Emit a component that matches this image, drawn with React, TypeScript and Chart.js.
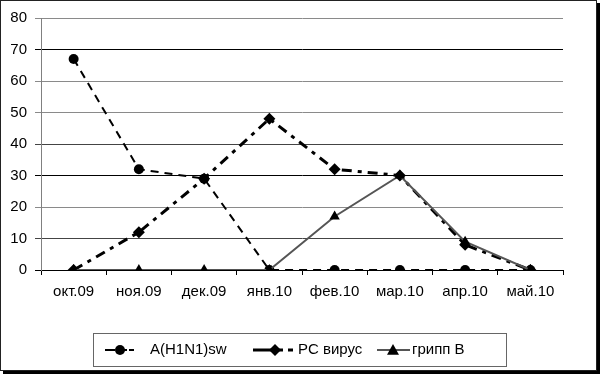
import React, { useEffect, useRef } from 'react';
import { Chart, registerables } from 'chart.js';

Chart.register(...registerables);

const categories = ['окт.09', 'ноя.09', 'дек.09', 'янв.10', 'фев.10', 'мар.10', 'апр.10', 'май.10'];
const h1n1Values = [67, 32, 29, 0, 0, 0, 0, 0];
const rsVirusValues = [0, 12, 29, 48, 32, 30, 8, 0];
const fluBValues = [0, 0, 0, 0, 17, 30, 9, 0];
const seriesNames = ['A(H1N1)sw', 'PC вирус', 'грипп B'];
const yMin = 0;
const yMax = 80;
const yStep = 10;

const FONT = 'Liberation Sans, Arial, sans-serif';

function drawMarker(ctx: CanvasRenderingContext2D, style: string, x: number, y: number, r: number) {
  ctx.save();
  ctx.fillStyle = '#000';
  ctx.beginPath();
  if (style === 'circle') {
    ctx.arc(x, y, r, 0, Math.PI * 2);
  } else if (style === 'rectRot') {
    ctx.moveTo(x, y - r);
    ctx.lineTo(x + r, y);
    ctx.lineTo(x, y + r);
    ctx.lineTo(x - r, y);
    ctx.closePath();
  } else {
    ctx.moveTo(x, y - r);
    ctx.lineTo(x + r, y + r * 0.8);
    ctx.lineTo(x - r, y + r * 0.8);
    ctx.closePath();
  }
  ctx.fill();
  ctx.restore();
}

const framePlugin = {
  id: 'frameAndLegend',
  afterDraw(chart: any) {
    const ctx: CanvasRenderingContext2D = chart.ctx;
    ctx.save();
    // outer frame with shadow
    ctx.strokeStyle = '#222';
    ctx.lineWidth = 1;
    ctx.strokeRect(0.5, 0.5, 596, 370);
    ctx.fillStyle = '#000';
    ctx.fillRect(597, 3, 3, 371);
    ctx.fillRect(3, 371, 597, 3);

    // legend box
    ctx.strokeStyle = '#666';
    ctx.strokeRect(93.5, 333.5, 413, 33);
    const cy = 350;
    const items = [
      { x0: 105, x1: 134, mx: 120, tx: 150 },
      { x0: 253, x1: 293, mx: 275, tx: 298 },
      { x0: 377, x1: 410, mx: 393, tx: 412 },
    ];
    chart.data.datasets.forEach((ds: any) => {
      const it = items[ds.legendIndex];
      ctx.save();
      ctx.strokeStyle = ds.borderColor;
      ctx.lineWidth = ds.borderWidth;
      ctx.setLineDash(ds.legendDash || []);
      ctx.beginPath();
      ctx.moveTo(it.x0, cy);
      ctx.lineTo(it.x1, cy);
      ctx.stroke();
      ctx.restore();
      drawMarker(ctx, ds.pointStyle, it.mx, cy, ds.pointRadius);
      ctx.fillStyle = '#000';
      ctx.font = '15px ' + FONT;
      ctx.textBaseline = 'middle';
      ctx.textAlign = 'left';
      ctx.fillText(ds.label, it.tx, cy);
    });
    ctx.restore();
  },
};

function gridColor(v: number) {
  if (v === 70 || v === 30 || v === 0) return '#000';
  if (v === 40 || v === 10) return '#444';
  return '#8a8a8a';
}

export default function App() {
  const ref = useRef<HTMLCanvasElement>(null);
  useEffect(() => {
    if (!ref.current) return;
    const chart = new Chart(ref.current, {
      type: 'line',
      data: {
        labels: categories,
        datasets: [
          {
            label: seriesNames[2],
            legendIndex: 2,
            data: fluBValues,
            borderColor: '#555',
            borderWidth: 2,
            pointStyle: 'triangle',
            pointRadius: 6,
            pointBackgroundColor: '#000',
            pointBorderColor: '#000',
            pointBorderWidth: 0,
            tension: 0,
            fill: false,
            legendDash: [],
          } as any,
          {
            label: seriesNames[1],
            legendIndex: 1,
            data: rsVirusValues,
            borderColor: '#000',
            borderWidth: 3,
            borderDash: [10, 6, 4, 6],
            pointStyle: 'rectRot',
            pointRadius: 6,
            pointBackgroundColor: '#000',
            pointBorderColor: '#000',
            pointBorderWidth: 0,
            tension: 0,
            fill: false,
            legendDash: [30, 5, 6, 5],
          } as any,
          {
            label: seriesNames[0],
            legendIndex: 0,
            data: h1n1Values,
            borderColor: '#000',
            borderWidth: 2,
            borderDash: [8, 6],
            pointStyle: 'circle',
            pointRadius: 5,
            pointBackgroundColor: '#000',
            pointBorderColor: '#000',
            pointBorderWidth: 0,
            tension: 0,
            fill: false,
            legendDash: [10, 2],
          } as any,
        ],
      },
      options: {
        animation: false,
        responsive: false,
        maintainAspectRatio: false,
        events: [],
        layout: { padding: { top: 18, right: 37, bottom: 64, left: 0 } },
        plugins: {
          legend: { display: false },
          tooltip: { enabled: false },
          title: { display: false },
        },
        scales: {
          x: {
            offset: true,
            grid: {
              offset: true,
              drawOnChartArea: false,
              tickLength: 5,
              color: '#000',
            },
            border: { color: '#000', width: 1 },
            ticks: {
              color: '#000',
              font: { family: FONT, size: 15 },
              padding: 8,
              maxRotation: 0,
              autoSkip: false,
            },
            afterFit: (s: any) => {
              s.height = 40;
            },
          },
          y: {
            min: yMin,
            max: yMax,
            grid: {
              color: (c: any) => gridColor(c.tick ? c.tick.value : 0),
              tickLength: 6,
            },
            border: { color: '#808080', width: 1 },
            ticks: {
              stepSize: yStep,
              color: '#000',
              font: { family: FONT, size: 15 },
              padding: 8,
            },
            afterFit: (s: any) => {
              s.width = 41;
            },
          },
        },
      },
      plugins: [framePlugin],
    });
    return () => chart.destroy();
  }, []);
  return (
    <div style={{ position: 'absolute', left: 0, top: 0, width: 600, height: 374, background: '#fff' }}>
      <canvas ref={ref} width={600} height={374} style={{ display: 'block' }} />
    </div>
  );
}
